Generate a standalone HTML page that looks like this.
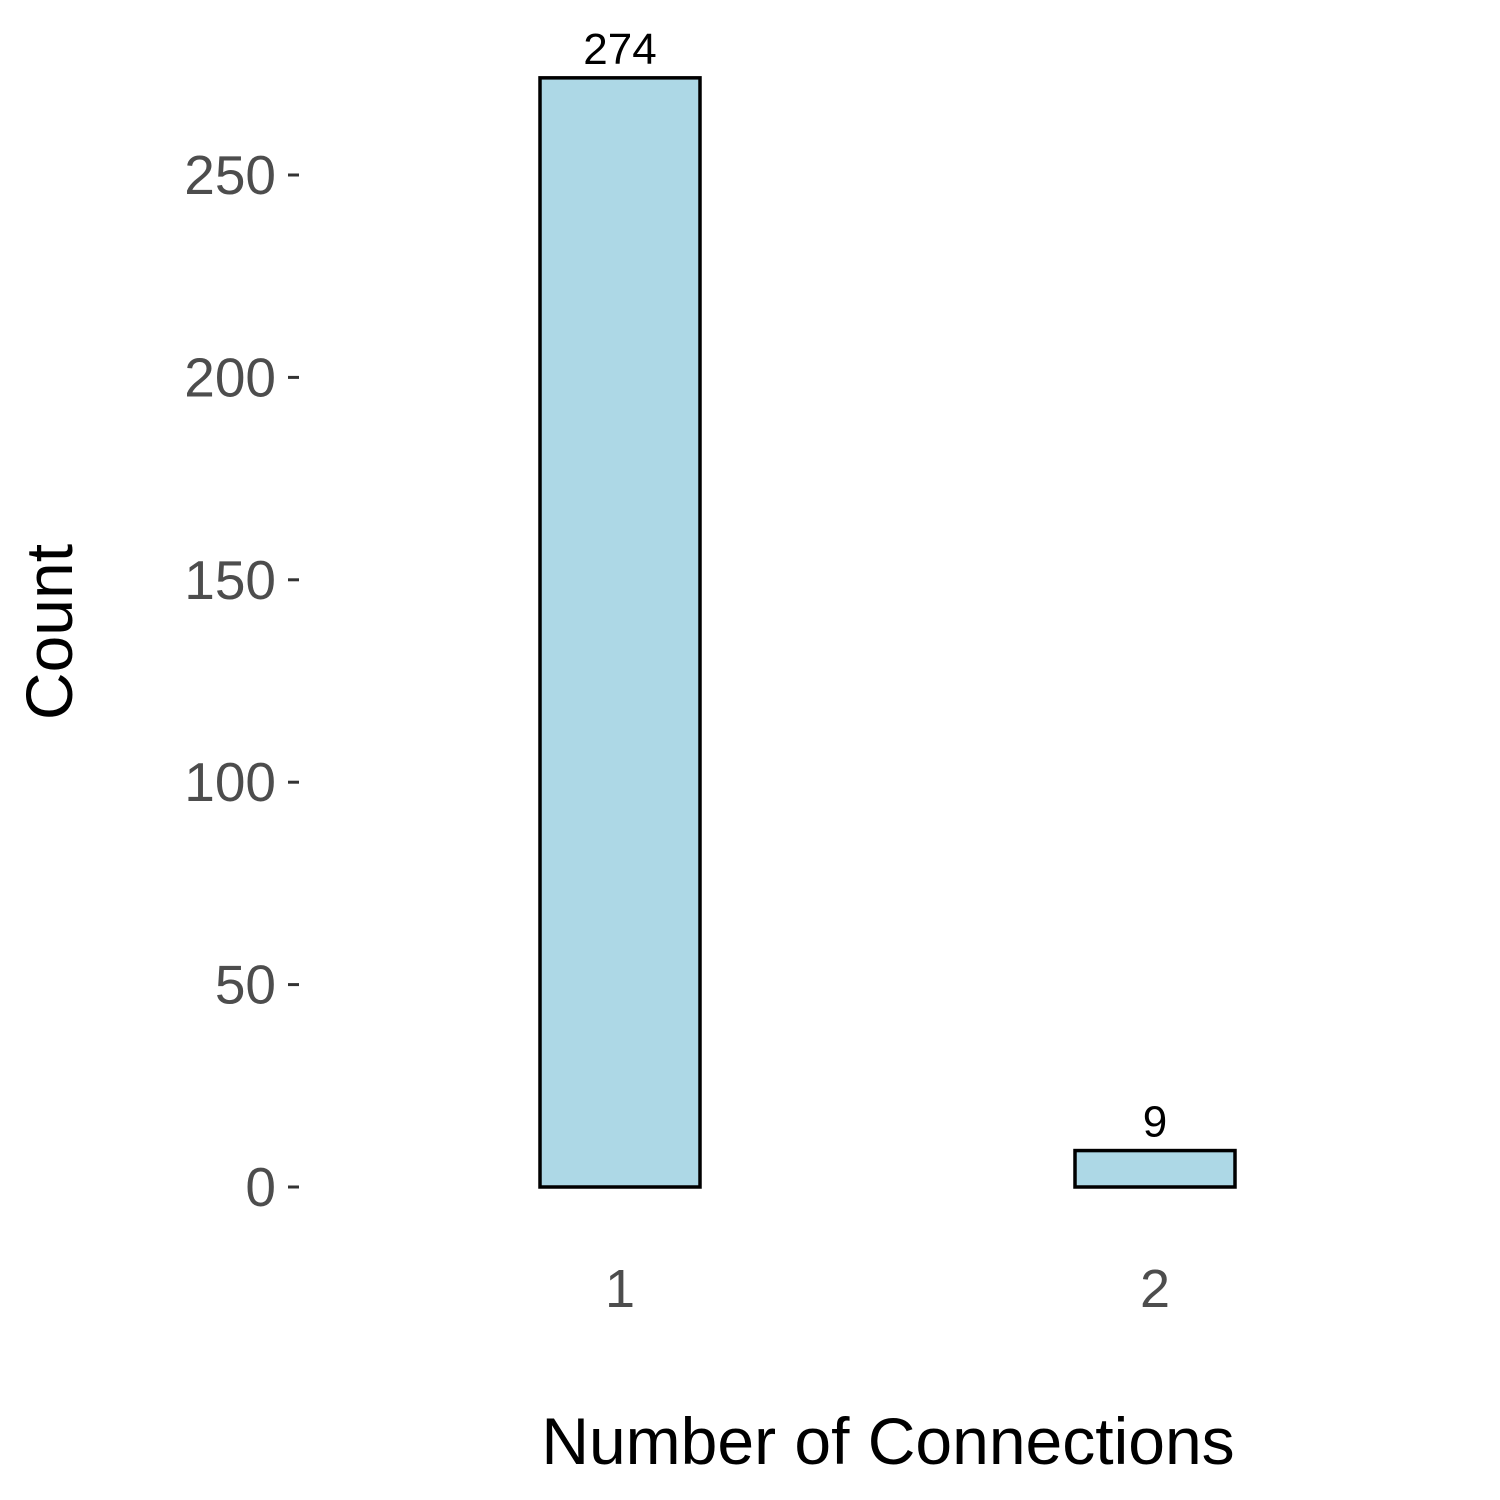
<!DOCTYPE html>
<html><head><meta charset="utf-8"><style>body{margin:0;background:#fff}svg{display:block}</style></head>
<body>
<svg id="chart" width="1500" height="1500" xmlns="http://www.w3.org/2000/svg" font-family="Liberation Sans, Arial, sans-serif">
<text transform="translate(72,632) rotate(-90)" text-anchor="middle" font-size="66" fill="#000">Count</text>
<text x="888" y="1464" text-anchor="middle" font-size="66" fill="#000">Number of Connections</text>
<g id="yaxis"></g>
<g id="xaxis"></g>
<g id="bars"></g>
</svg>
<script>
const categories = ["1", "2"];
const counts = [274, 9];
const yTicks = [0, 50, 100, 150, 200, 250];
const NS = "http://www.w3.org/2000/svg";
function y(v){ return 1187 - v * (1012/250); }
function x(i){ return 620 + i * 535; }
const barW = 160;
function mk(tag, attrs, parent){ const e=document.createElementNS(NS,tag); for(const k in attrs) e.setAttribute(k,attrs[k]); parent.appendChild(e); return e; }
const ya=document.getElementById('yaxis'), xa=document.getElementById('xaxis'), bg=document.getElementById('bars');
yTicks.forEach(t=>{
  const l=mk('line',{x1:288,x2:299,y1:y(t),y2:y(t),stroke:'#333','stroke-width':3},ya);
  
  
  const tx=mk('text',{x:276,y:y(t)+19,'text-anchor':'end','font-size':55,fill:'#4d4d4d'},ya);
  tx.textContent=t;
  
  
});
categories.forEach((c,i)=>{
  const tx=mk('text',{x:x(i),y:1307,'text-anchor':'middle','font-size':54,fill:'#4d4d4d'},xa);
  tx.textContent=c;
  
  
  const r=mk('rect',{x:x(i)-barW/2,y:y(counts[i]),width:barW,height:y(0)-y(counts[i]),fill:'#add8e6',stroke:'#000','stroke-width':3.5},bg);
  
  
  const v=mk('text',{x:x(i),y:y(counts[i])-14,'text-anchor':'middle','font-size':44,fill:'#000'},bg);
  v.textContent=counts[i];
  
  
});
</script>
</body></html>
